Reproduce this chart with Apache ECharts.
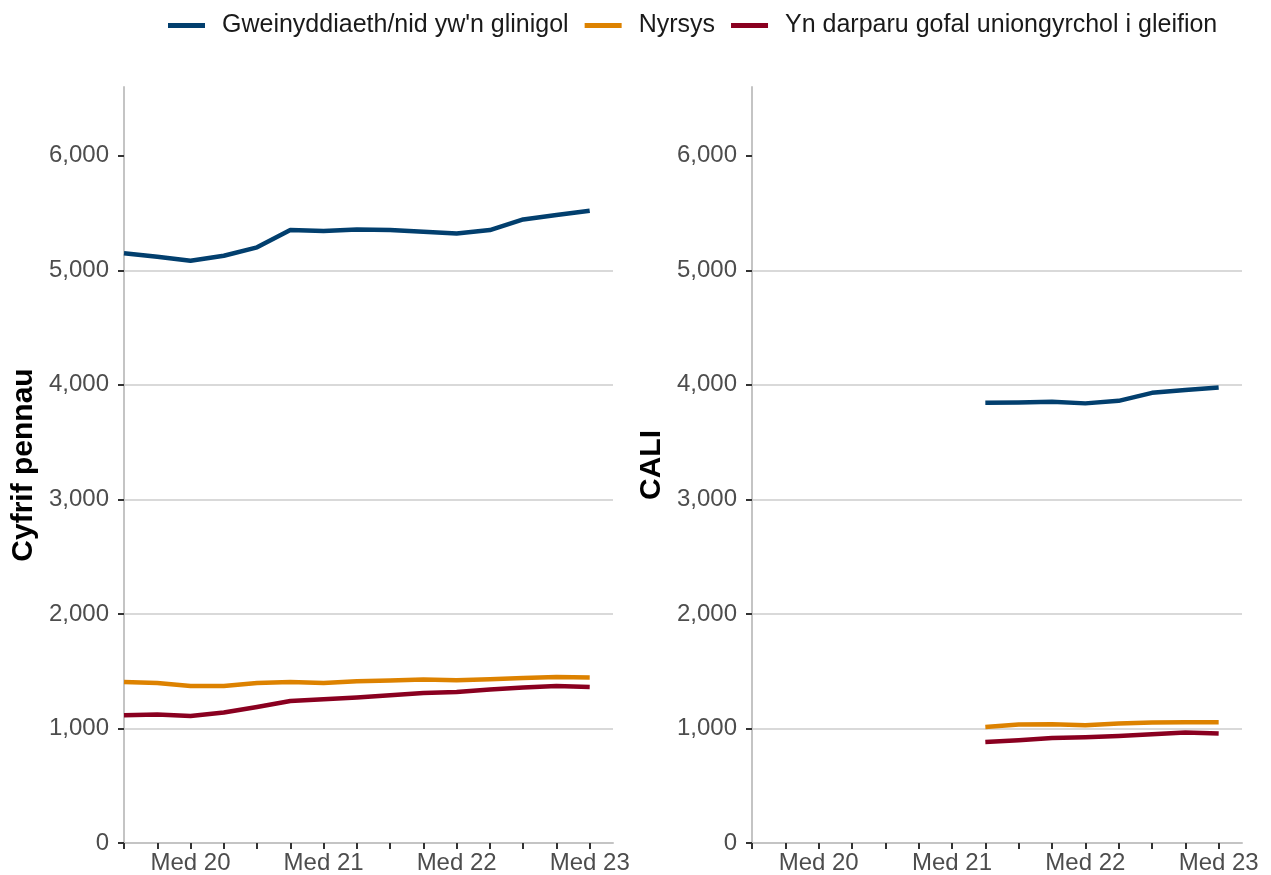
<!DOCTYPE html>
<html>
<head>
<meta charset="utf-8">
<script src="https://cdn.jsdelivr.net/npm/echarts@6/dist/echarts.min.js"></script>
<style>
html, body { margin: 0; padding: 0; background: #fff; }
#chart { width: 1271px; height: 875px; }
</style>
</head>
<body>
<div id="chart"></div>
<script>
// quarters (Welsh month abbreviations), only "Med" (Sept) is labelled
var quarters = ['Maw 20', 'Meh 20', 'Med 20', 'Rhag 20', 'Maw 21', 'Meh 21', 'Med 21', 'Rhag 21',
                'Maw 22', 'Meh 22', 'Med 22', 'Rhag 22', 'Maw 23', 'Meh 23', 'Med 23'];
var seriesNames = ["Gweinyddiaeth/nid yw'n glinigol", 'Nyrsys', 'Yn darparu gofal uniongyrchol i gleifion'];
var yTicks = [0, 1000, 2000, 3000, 4000, 5000, 6000];

// Cyfrif pennau (headcount)
var headAdmin   = [5148, 5118, 5083, 5127, 5200, 5351, 5342, 5357, 5351, 5336, 5322, 5351, 5444, 5482, 5520];
var headNursing = [1406, 1397, 1371, 1371, 1397, 1406, 1397, 1412, 1418, 1427, 1421, 1430, 1441, 1450, 1445];
var headDirect  = [1115, 1121, 1109, 1139, 1188, 1240, 1255, 1270, 1290, 1310, 1319, 1340, 1357, 1371, 1362];

// CALI (full time equivalent), starts Rhag 21
var caliAdmin   = [null, null, null, null, null, null, null, 3843, 3846, 3852, 3838, 3860, 3930, 3954, 3977];
var caliNursing = [null, null, null, null, null, null, null, 1013, 1034, 1037, 1028, 1043, 1052, 1054, 1054];
var caliDirect  = [null, null, null, null, null, null, null, 882, 897, 917, 923, 935, 949, 964, 955];

var colors = ['#023f6e', '#dd8200', '#8a0020'];
var font = 'Liberation Sans, Arial, sans-serif';

var tickIdx = quarters.map(function (q, i) { return i; });
var labelIdx = tickIdx.filter(function (i) { return quarters[i].indexOf('Med') === 0; });

function toPoints(arr) {
    return arr.map(function (v, i) { return [i, v]; })
              .filter(function (p) { return p[1] !== null; });
}

function xAxisFor(gi) {
    return {
        type: 'value',
        gridIndex: gi,
        min: 0,
        max: 14.7,
        axisLine: { show: true, onZero: false, lineStyle: { color: '#c4c4c4', width: 2 } },
        axisTick: { show: true, customValues: tickIdx, length: 6, lineStyle: { color: '#333', width: 2 } },
        axisLabel: {
            customValues: labelIdx,
            formatter: function (v) { return quarters[Math.round(v)]; },
            color: '#4d4d4d', fontSize: 24, fontFamily: font, margin: 8
        },
        splitLine: { show: false }
    };
}

function yAxisFor(gi, title) {
    return {
        type: 'value',
        gridIndex: gi,
        min: 0,
        max: 6600,
        interval: 1000,
        name: title,
        nameLocation: 'middle',
        nameRotate: 90,
        nameGap: 85,
        nameTextStyle: { color: '#000', fontSize: 30, fontWeight: 'bold', fontFamily: font },
        axisLine: { show: true, lineStyle: { color: '#c4c4c4', width: 2 } },
        axisTick: { show: true, customValues: yTicks, length: 6, lineStyle: { color: '#333', width: 2 } },
        axisLabel: {
            customValues: yTicks,
            formatter: function (v) { return v.toLocaleString('en-US'); },
            color: '#4d4d4d', fontSize: 24, fontFamily: font, margin: 15
        },
        splitLine: { show: true, showMinLine: false, showMaxLine: false, lineStyle: { color: '#d9d9d9', width: 2 } }
    };
}

function line(name, data, gi, ci) {
    return {
        name: name,
        type: 'line',
        xAxisIndex: gi,
        yAxisIndex: gi,
        data: toPoints(data),
        showSymbol: false,
        symbol: 'none',
        color: colors[ci],
        lineStyle: { width: 4.5, color: colors[ci], join: 'round' }
    };
}

var myChart = echarts.init(document.getElementById('chart'));
myChart.setOption({
    animation: false,
    legend: {
        data: seriesNames,
        top: 8,
        left: 163,
        icon: 'rect',
        itemWidth: 37,
        itemHeight: 5,
        itemGap: 16,
        textStyle: { color: '#1a1a1a', fontSize: 25, fontFamily: font, padding: [0, 0, 0, 12] }
    },
    grid: [
        { left: 124, top: 87, width: 489, height: 756 },
        { left: 752, top: 87, width: 490, height: 756 }
    ],
    xAxis: [xAxisFor(0), xAxisFor(1)],
    yAxis: [yAxisFor(0, 'Cyfrif pennau'), yAxisFor(1, 'CALI')],
    series: [
        line(seriesNames[0], headAdmin, 0, 0),
        line(seriesNames[1], headNursing, 0, 1),
        line(seriesNames[2], headDirect, 0, 2),
        line(seriesNames[0], caliAdmin, 1, 0),
        line(seriesNames[1], caliNursing, 1, 1),
        line(seriesNames[2], caliDirect, 1, 2)
    ]
});
</script>
</body>
</html>
